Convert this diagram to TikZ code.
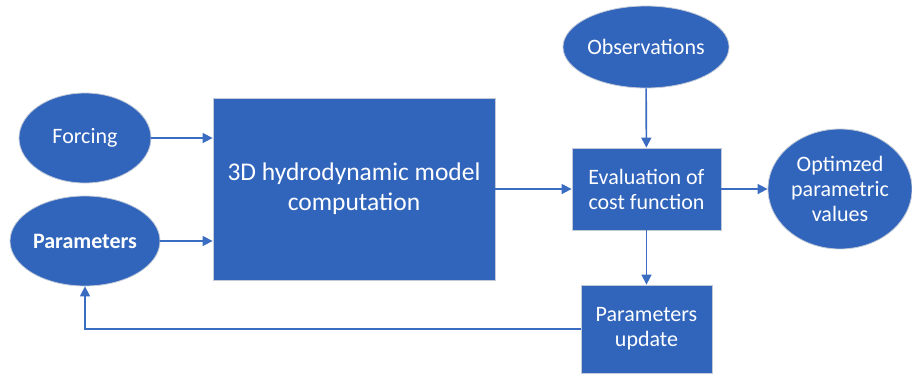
\documentclass[tikz,border=0pt]{standalone}
\usepackage{fontspec}
\setmainfont{Carlito}
\usetikzlibrary{shapes.geometric,arrows.meta}
\definecolor{boxblue}{RGB}{49,101,188}
\definecolor{edgegray}{RGB}{195,202,215}
\definecolor{arrowblue}{RGB}{58,108,194}
\begin{document}
\begin{tikzpicture}[x=1pt,y=-1pt,
  base/.style={fill=boxblue, draw=edgegray, line width=0.8pt, text=white, align=center, inner sep=0pt,
    font=\fontsize{22}{25}\selectfont},
  ell/.style={base, ellipse},
  box/.style={base, rectangle},
  arr/.style={draw=arrowblue, line width=1.6pt, -{Triangle[length=10pt,width=10pt]}}]
\useasboundingbox (0,0) rectangle (912,373);
\node[ell, minimum width=132pt, minimum height=90pt] (forcing) at (85,138) {Forcing};
\node[ell, minimum width=150pt, minimum height=90pt, font=\fontsize{22}{25}\selectfont\bfseries] (params) at (85,241) {Parameters};
\node[box, minimum width=282pt, minimum height=182pt, font=\fontsize{25.5}{30}\selectfont] (model) at (354,189) {3D hydrodynamic model\\computation};
\node[ell, minimum width=158pt, minimum height=82pt] (obs) at (646,47) {Observations};
\node[box, minimum width=149pt, minimum height=82pt] (eval) at (646.5,189) {Evaluation of\\cost function};
\node[ell, minimum width=144pt, minimum height=120pt] (opt) at (840,189) {Optimzed\\parametric\\values};
\node[box, minimum width=131pt, minimum height=88pt] (upd) at (646.5,329) {Parameters\\update};
\draw[arr] (forcing.east) -- (forcing.east -| model.west);
\draw[arr] (params.east) -- (params.east -| model.west);
\draw[arr] (model.east) -- (eval.west);
\draw[arr] (obs) -- (eval);
\draw[arr] (eval) -- (opt);
\draw[arr] (eval) -- (upd);
\draw[arr] (upd.west) -| (params.south);
\end{tikzpicture}
\end{document}
